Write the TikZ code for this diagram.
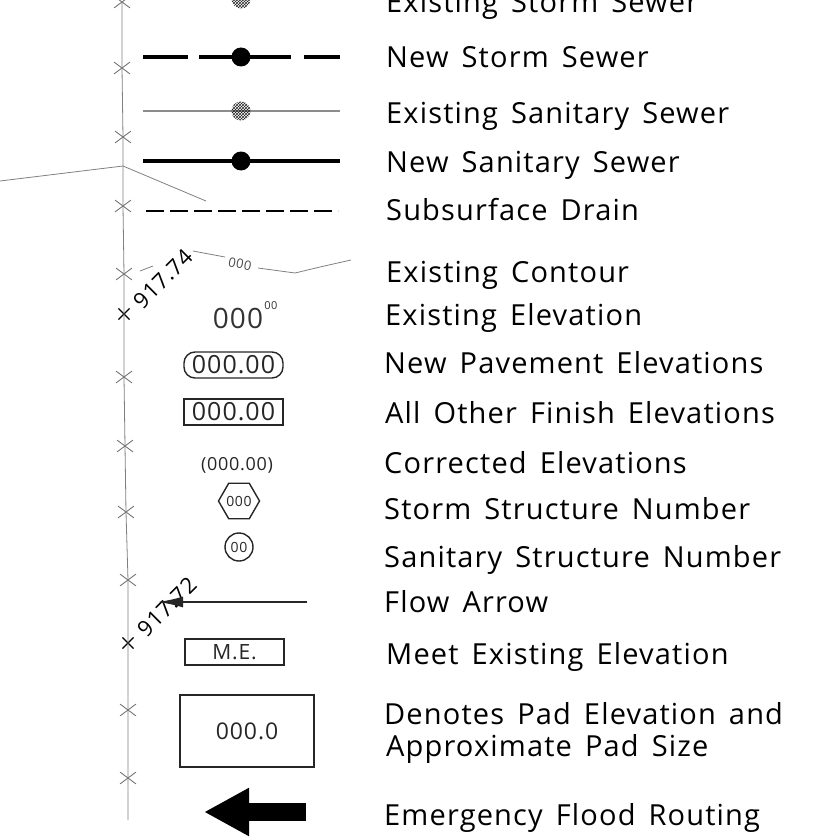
\documentclass[tikz,border=0pt]{standalone}
\usepackage{fontspec}
\setmainfont[LetterSpace=4,WordSpace=1.5]{Open Sans}
\usepackage{tikz}
\usetikzlibrary{arrows.meta}
\usetikzlibrary{patterns}
\usetikzlibrary{shapes.geometric}
\usetikzlibrary{shapes.misc}

\tikzset{
  legend/.style={anchor=base west,inner sep=0pt,font=\fontsize{29}{33}\selectfont,text=black},
  symtext/.style={inner sep=0pt,font=\fontsize{28}{30}\selectfont,text=black!80},
  spot/.style={font=\fontsize{22}{24}\selectfont,inner sep=0pt,text=black,rotate=45},
  newdot/.style={circle,fill=black,inner sep=0pt,minimum size=19pt},
  olddot/.style={circle,pattern=crosshatch,pattern color=black!85,inner sep=0pt,minimum size=19pt},
  oldline/.style={draw=black!45,line width=1.8pt},
  newline/.style={draw=black,line width=4.5pt},
  fence/.style={draw=black!50,line width=0.8pt},
  symbox/.style={draw=black!85,line width=1.4pt,inner sep=0pt,font=\fontsize{25}{28}\selectfont,text=black!85},
  cross/.style={draw=black!60,line width=0.8pt,cross out,inner sep=0pt,minimum width=15pt,minimum height=11pt},
  crossdark/.style={draw=black,line width=1.1pt,cross out,inner sep=0pt,minimum size=10pt},
}

\begin{document}
\begin{tikzpicture}[x=1pt,y=-1pt]
        \useasboundingbox (0,0) rectangle (833,840);
        \clip (0,0) rectangle (833,840);

        % survey line
        \node[cross] (x1) at (122,2) {};
        \node[cross] (x2) at (122,68) {};
        \node[cross] (x3) at (123,137) {};
        \node[cross] (x4) at (123,206) {};
        \node[cross] (x5) at (124,274) {};
        \node[crossdark] (x6) at (124,314) {};
        \node[cross] (x7) at (124,377) {};
        \node[cross] (x8) at (125,446) {};
        \node[cross] (x9) at (126,512) {};
        \node[cross] (x10) at (128,580) {};
        \node[crossdark] (x11) at (128,643) {};
        \node[cross] (x12) at (128,710) {};
        \node[cross] (x13) at (128,778) {};
        \coordinate (fenceend) at (128,820);
        \draw[fence] (x1.center) -- (x2.center) -- (x3.center) -- (x4.center) -- (x5.center)
           -- (x6.center) -- (x7.center) -- (x8.center) -- (x9.center) -- (x10.center)
           -- (x11.center) -- (x12.center) -- (x13.center) -- (fenceend);

        % leaders
        \coordinate (leadW) at (0,181);
        \coordinate (leadM) at (123,166);
        \coordinate (leadE) at (206,201);
        \draw[fence] (leadW) -- (leadM) -- (leadE);

        % sewer lines
        \coordinate (stormoldW) at (145,-1);
        \coordinate (stormoldE) at (340,-1);
        \draw[oldline,dash pattern=on 40pt off 15pt on 85pt off 20pt on 40pt off 0pt] (stormoldW) -- (stormoldE);
        \node[olddot] (stormold) at (241,-1) {};

        \node[newdot] (stormnew) at (241,57) {};
        \coordinate (stormnewW) at (143,57);
        \coordinate (stormnewE) at (340,57);
        \draw[newline,dash pattern=on 45pt off 11pt on 92pt off 13pt on 40pt off 0pt] (stormnewW) -- (stormnewE);

        \coordinate (sanoldW) at (143,111);
        \coordinate (sanoldE) at (340,111);
        \draw[oldline] (sanoldW) -- (sanoldE);
        \node[olddot] (sanold) at (241,111) {};

        \node[newdot] (sannew) at (241,161) {};
        \coordinate (sannewW) at (143,161);
        \coordinate (sannewE) at (340,161);
        \draw[newline] (sannewW) -- (sannewE);

        \coordinate (drainW) at (146,211);
        \coordinate (drainE) at (338,211);
        \draw[draw=black,line width=2.5pt,dash pattern=on 18pt off 6pt] (drainW) -- (drainE);

        % contour
        \node[rotate=-12,inner sep=0pt,text=black!70,font=\fontsize{13}{14}\selectfont] (contourtxt) at (240,264) {000};
        \coordinate (contA) at (140,271);
        \coordinate (contB) at (153,266);
        \coordinate (contC) at (193,251);
        \coordinate (contD) at (225,257);
        \coordinate (contE) at (258,268);
        \coordinate (contF) at (295,273);
        \coordinate (contG) at (320,267);
        \coordinate (contH) at (351,260);
        \draw[fence] (contA) -- (contB);
        \draw[fence] (contC) -- (contD);
        \draw[fence] (contE) -- (contF) -- (contG) -- (contH);
        \node[spot] (spotA) at (163,279) {917.74};
        \node[spot] (spotB) at (167,607) {917.72};

        % symbols
        \node[symtext,anchor=base] (exelev) at (238,328) {000};
        \node[inner sep=0pt,text=black!80,font=\fontsize{11}{12}\selectfont] (exelevsup) at (271,306) {00};
        \node[symbox,rounded corners=11pt,minimum width=99pt,minimum height=26pt] (pavebox) at (233.5,365) {000.00};
        \node[symbox,minimum width=99pt,minimum height=26pt] (finbox) at (233.5,412) {000.00};
        \node[inner sep=0pt,text=black!85,font=\fontsize{18}{20}\selectfont] (corrected) at (237,465) {(000.00)};
        \node[symbox,regular polygon,regular polygon sides=6,shape border rotate=0,minimum size=38pt,font=\fontsize{14}{15}\selectfont] (hexnum) at (239,501) {000};
        \node[symbox,circle,minimum size=28pt,font=\fontsize{14}{15}\selectfont] (circnum) at (239,547) {00};

        \coordinate (flowE) at (307,602);
        \coordinate (flowW) at (158,602);
        \draw[draw=black!85,line width=1.4pt,-{Latex[length=25pt,width=11pt]}] (flowE) -- (flowW);

        \node[symbox,minimum width=99pt,minimum height=26pt,font=\fontsize{21}{23}\selectfont] (mebox) at (234.5,652) {M.E.};
        \node[symbox,minimum width=134pt,minimum height=72pt,font=\fontsize{23}{25}\selectfont] (padbox) at (247,731) {000.0};

        \coordinate (floodE) at (306,812);
        \coordinate (floodW) at (204,812);
        \draw[draw=black,line width=18pt,-{Triangle[length=45pt,width=45pt]}] (floodE) -- (floodW);

        % legend labels
        \node[legend] (lab1) at (386,13) {Existing Storm Sewer};
        \node[legend] (lab2) at (386,68) {New Storm Sewer};
        \node[legend] (lab3) at (386,124) {Existing Sanitary Sewer};
        \node[legend] (lab4) at (386,172) {New Sanitary Sewer};
        \node[legend] (lab5) at (386,220) {Subsurface Drain};
        \node[legend] (lab6) at (386,282) {Existing Contour};
        \node[legend] (lab7) at (385,325) {Existing Elevation};
        \node[legend] (lab8) at (384,373) {New Pavement Elevations};
        \node[legend] (lab9) at (385,423) {All Other Finish Elevations};
        \node[legend] (lab10) at (384,473) {Corrected Elevations};
        \node[legend] (lab11) at (384,519) {Storm Structure Number};
        \node[legend] (lab12) at (384,567) {Sanitary Structure Number};
        \node[legend] (lab13) at (384,612) {Flow Arrow};
        \node[legend] (lab14) at (386,664) {Meet Existing Elevation};
        \node[legend] (lab15) at (384,724) {Denotes Pad Elevation and};
        \node[legend] (lab16) at (386,756) {Approximate Pad Size};
        \node[legend] (lab17) at (384,825) {Emergency Flood Routing};
\end{tikzpicture}
\end{document}
